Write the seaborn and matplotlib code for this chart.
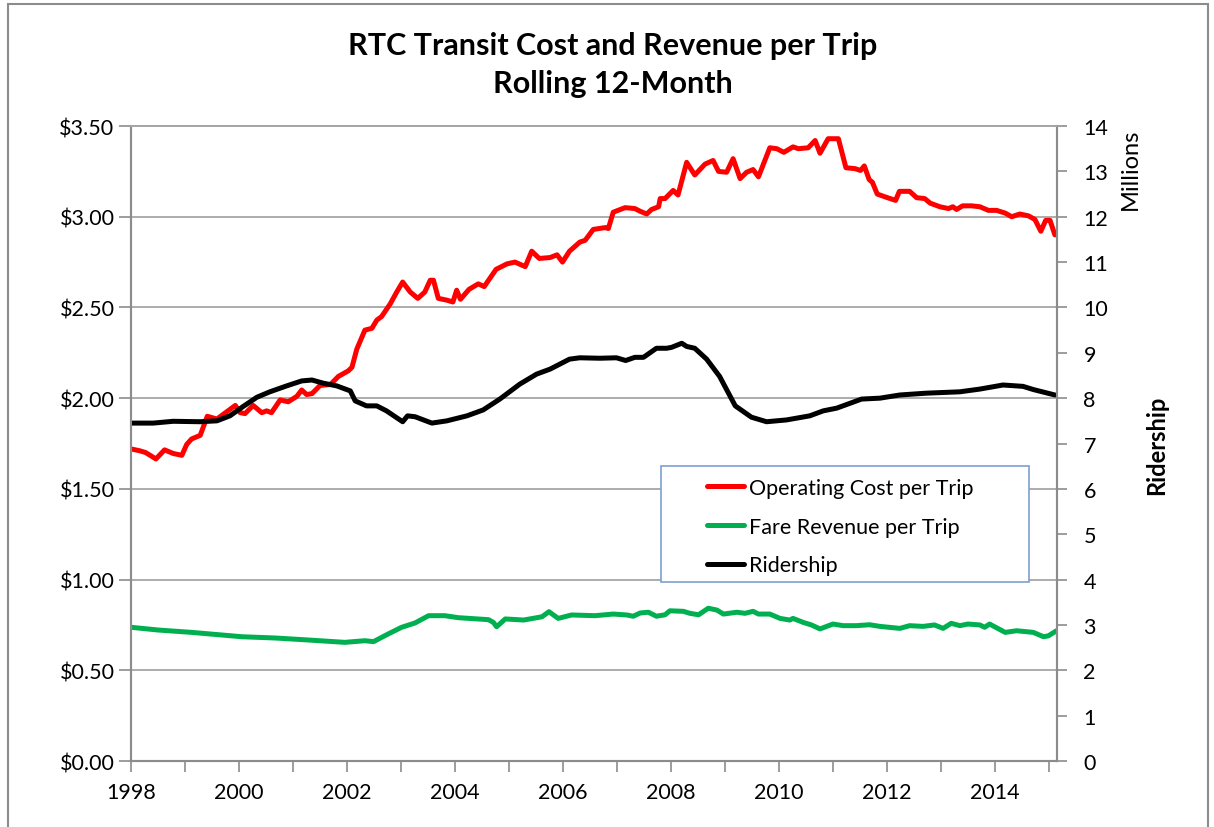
import seaborn as sns
import matplotlib.pyplot as plt
from matplotlib.lines import Line2D
from matplotlib.patches import Rectangle

# Operating cost per trip ($)
cost_years = [1998.00, 1998.16, 1998.27, 1998.46, 1998.62, 1998.78, 1998.94,
              1999.03, 1999.12, 1999.28, 1999.41, 1999.59, 1999.77, 1999.93,
              2000.02, 2000.11, 2000.26, 2000.42, 2000.51, 2000.60, 2000.76, 2000.91,
              2001.07, 2001.16, 2001.25, 2001.35, 2001.50, 2001.69, 2001.84,
              2002.02, 2002.09, 2002.18, 2002.33, 2002.46, 2002.55, 2002.64, 2002.80, 2002.92,
              2003.03, 2003.17, 2003.31, 2003.44, 2003.54, 2003.60, 2003.69, 2003.85, 2003.96,
              2004.03, 2004.10, 2004.26, 2004.43, 2004.54, 2004.76, 2004.96,
              2005.11, 2005.30, 2005.42, 2005.56, 2005.76, 2005.89, 2005.99,
              2006.12, 2006.31, 2006.41, 2006.56, 2006.78, 2006.84, 2006.93,
              2007.02, 2007.15, 2007.33, 2007.43, 2007.55, 2007.64, 2007.77, 2007.80, 2007.89,
              2008.04, 2008.13, 2008.29, 2008.44, 2008.63, 2008.78, 2008.88,
              2009.03, 2009.15, 2009.28, 2009.40, 2009.52, 2009.62, 2009.83, 2009.96,
              2010.09, 2010.26, 2010.36, 2010.54, 2010.67, 2010.76, 2010.91,
              2011.10, 2011.24, 2011.41, 2011.51, 2011.58, 2011.67, 2011.73, 2011.82, 2011.96,
              2012.16, 2012.23, 2012.42, 2012.55, 2012.70, 2012.80, 2012.98,
              2013.14, 2013.22, 2013.29, 2013.40, 2013.57, 2013.72, 2013.88,
              2014.03, 2014.19, 2014.31, 2014.46, 2014.62, 2014.74, 2014.85, 2014.94,
              2015.02, 2015.11]
cost_per_trip = [1.72, 1.71, 1.70, 1.665, 1.715, 1.695, 1.685,
                 1.745, 1.775, 1.795, 1.90, 1.885, 1.925, 1.96,
                 1.92, 1.915, 1.96, 1.92, 1.93, 1.92, 1.99, 1.98,
                 2.01, 2.045, 2.02, 2.025, 2.07, 2.075, 2.12,
                 2.15, 2.17, 2.27, 2.375, 2.385, 2.43, 2.45, 2.52, 2.585,
                 2.64, 2.585, 2.55, 2.585, 2.65, 2.65, 2.55, 2.54, 2.53,
                 2.595, 2.545, 2.60, 2.63, 2.615, 2.71, 2.74,
                 2.75, 2.725, 2.81, 2.77, 2.775, 2.79, 2.75,
                 2.81, 2.86, 2.87, 2.93, 2.94, 2.935, 3.025,
                 3.035, 3.05, 3.045, 3.03, 3.015, 3.04, 3.055, 3.10, 3.10,
                 3.145, 3.12, 3.30, 3.23, 3.29, 3.31, 3.25,
                 3.245, 3.32, 3.21, 3.245, 3.26, 3.22, 3.38, 3.375,
                 3.355, 3.385, 3.375, 3.38, 3.42, 3.35, 3.43,
                 3.43, 3.27, 3.265, 3.255, 3.28, 3.205, 3.19, 3.125, 3.11,
                 3.09, 3.14, 3.14, 3.105, 3.10, 3.075, 3.055,
                 3.045, 3.055, 3.04, 3.06, 3.06, 3.055, 3.035,
                 3.035, 3.02, 3.00, 3.015, 3.005, 2.985, 2.92, 2.98,
                 2.98, 2.90]

# Fare revenue per trip ($)
fare_years = [1998.00, 1998.50,
              1999.12,
              2000.05, 2000.67,
              2001.28, 2001.96,
              2002.33, 2002.49, 2002.76,
              2003.01, 2003.26, 2003.51, 2003.81,
              2004.06, 2004.62, 2004.71, 2004.77, 2004.93,
              2005.27, 2005.61, 2005.74, 2005.91,
              2006.16, 2006.59, 2006.93,
              2007.18, 2007.30, 2007.43, 2007.58, 2007.73, 2007.89, 2007.98,
              2008.23, 2008.35, 2008.51, 2008.69, 2008.85, 2008.97,
              2009.22, 2009.37, 2009.52, 2009.62, 2009.83,
              2010.02, 2010.20, 2010.26, 2010.45, 2010.60, 2010.76,
              2011.00, 2011.19, 2011.43, 2011.68, 2011.87,
              2012.24, 2012.42, 2012.67, 2012.88,
              2013.04, 2013.19, 2013.35, 2013.50, 2013.72, 2013.81, 2013.90,
              2014.19, 2014.40, 2014.71, 2014.90, 2014.99,
              2015.14]
fare_per_trip = [0.737, 0.722,
                 0.709,
                 0.685, 0.678,
                 0.667, 0.654,
                 0.663, 0.658, 0.700,
                 0.737, 0.761, 0.801, 0.801,
                 0.790, 0.779, 0.764, 0.740, 0.783,
                 0.777, 0.795, 0.823, 0.786,
                 0.805, 0.801, 0.810,
                 0.805, 0.798, 0.816, 0.820, 0.798, 0.806, 0.828,
                 0.825, 0.814, 0.806, 0.842, 0.832, 0.810,
                 0.820, 0.814, 0.825, 0.810, 0.810,
                 0.786, 0.777, 0.786, 0.764, 0.750, 0.728,
                 0.755, 0.746, 0.746, 0.751, 0.742,
                 0.731, 0.746, 0.742, 0.750,
                 0.731, 0.759, 0.746, 0.755, 0.750, 0.737, 0.755,
                 0.709, 0.718, 0.709, 0.685, 0.690,
                 0.718]

# Ridership (millions, rolling 12-month)
ride_years = [1998.00, 1998.41, 1998.78,
              1999.28, 1999.59, 1999.83,
              2000.08, 2000.33, 2000.57, 2000.88,
              2001.16, 2001.35, 2001.56, 2001.81,
              2002.06, 2002.15, 2002.36, 2002.55, 2002.73,
              2003.03, 2003.12, 2003.26, 2003.57, 2003.85,
              2004.22, 2004.52, 2004.83,
              2005.20, 2005.51, 2005.76,
              2006.12, 2006.31, 2006.68, 2006.99,
              2007.16, 2007.33, 2007.49, 2007.73, 2007.92,
              2008.01, 2008.20, 2008.29, 2008.44, 2008.66, 2008.90,
              2009.19, 2009.49, 2009.77,
              2010.14, 2010.57, 2010.82,
              2011.07, 2011.53, 2011.87,
              2012.24, 2012.73,
              2013.35, 2013.72,
              2014.15, 2014.52, 2014.71,
              2015.11]
ridership = [7.45, 7.45, 7.49,
             7.48, 7.50, 7.61,
             7.82, 8.02, 8.14, 8.27,
             8.38, 8.40, 8.33, 8.27,
             8.16, 7.94, 7.83, 7.83, 7.72,
             7.48, 7.61, 7.59, 7.45, 7.50,
             7.61, 7.74, 7.98,
             8.31, 8.53, 8.64,
             8.86, 8.89, 8.88, 8.89,
             8.83, 8.90, 8.90, 9.10, 9.10,
             9.12, 9.21, 9.14, 9.10, 8.86, 8.48,
             7.83, 7.58, 7.48,
             7.52, 7.61, 7.72,
             7.78, 7.98, 8.00,
             8.07, 8.11,
             8.14, 8.20,
             8.29, 8.26, 8.19,
             8.07]

year_ticks = list(range(1998, 2016))
year_labels = [str(y) if y % 2 == 0 else "" for y in year_ticks]
cost_ticks = [0, 0.5, 1.0, 1.5, 2.0, 2.5, 3.0, 3.5]
ride_ticks = list(range(0, 15))

sns.set_style("white")
plt.rcParams["font.family"] = ["Lato", "DejaVu Sans"]
plt.rcParams["text.color"] = "black"
plt.rcParams["xtick.labelcolor"] = "black"
plt.rcParams["ytick.labelcolor"] = "black"

RED, GREEN, BLACK = "#ff0000", "#00b050", "#000000"
GRID = "#a6a6a6"
SPINE = "#8c8c8c"
LW = 3.6

fig = plt.figure(figsize=(12.14, 8.28), dpi=100)
ax = fig.add_axes([0.108, 0.0797, 0.7627, 0.7669])
ax2 = ax.twinx()

sns.lineplot(x=cost_years, y=cost_per_trip, ax=ax, color=RED, lw=LW)
sns.lineplot(x=fare_years, y=fare_per_trip, ax=ax, color=GREEN, lw=LW)
sns.lineplot(x=ride_years, y=ridership, ax=ax2, color=BLACK, lw=LW)

ax.set_xlim(1998, 2015.15)
ax.set_ylim(0, 3.5)
ax2.set_ylim(0, 14)

ax.set_xticks(year_ticks)
ax.set_xticklabels(year_labels)
ax.set_yticks(cost_ticks)
ax.set_yticklabels([f"${v:.2f}" for v in cost_ticks])
ax2.set_yticks(ride_ticks)

ax.yaxis.grid(True, color=GRID, lw=1.3)
ax.set_axisbelow(True)
ax.set_xlabel("")
ax.set_ylabel("")
ax2.set_ylabel("")

for a in (ax, ax2):
    for s in a.spines.values():
        s.set_color(SPINE)
        s.set_linewidth(1.5)
    a.spines["top"].set_color(GRID)
    a.spines["top"].set_linewidth(1.3)

ax.tick_params(axis="x", direction="out", length=8, width=1.2, color=SPINE,
               labelsize=15.5, labelcolor="black", pad=7, bottom=True)
ax.tick_params(axis="y", direction="out", length=9, width=1.2, color=SPINE,
               labelsize=15.5, labelcolor="black", pad=3, left=True)
ax2.tick_params(axis="y", direction="out", length=7, width=1.2, color=SPINE,
                labelsize=15.5, labelcolor="black", pad=12, right=True)

fig.text(0.505, 0.9215, "RTC Transit Cost and Revenue per Trip\nRolling 12-Month",
         ha="center", va="center", fontsize=22, fontweight="bold", linespacing=1.45,
         color="black")
fig.text(0.931, 0.795, "Millions", rotation=90, ha="center", va="center", fontsize=17,
         color="black")
fig.text(0.953, 0.462, "Ridership", rotation=90, ha="center", va="center",
         fontsize=17, fontweight="bold", color="black")

# legend box
ax2.add_patch(Rectangle((0.5724, 0.2819), 0.3974, 0.1827, transform=ax2.transAxes,
                        facecolor="white", edgecolor="#7f9fcf", lw=1.2, zorder=5))
handles = [Line2D([], [], color=RED, lw=LW),
           Line2D([], [], color=GREEN, lw=LW),
           Line2D([], [], color=BLACK, lw=LW)]
leg = ax2.legend(handles, ["Operating Cost per Trip", "Fare Revenue per Trip", "Ridership"],
                 loc="upper left", bbox_to_anchor=(0.622, 0.4457), frameon=False,
                 fontsize=15.5, handlelength=1.72, handletextpad=0.23, labelspacing=0.87,
                 borderpad=0, borderaxespad=0, labelcolor="black")
leg.set_zorder(6)

# outer chart border
fig.add_artist(Rectangle((8 / 1214, -0.02), 1200 / 1214, 1.014, transform=fig.transFigure,
                         fill=False, edgecolor="#8c8c8c", lw=1.5))

plt.savefig("out.png", dpi=100)
plt.close()
